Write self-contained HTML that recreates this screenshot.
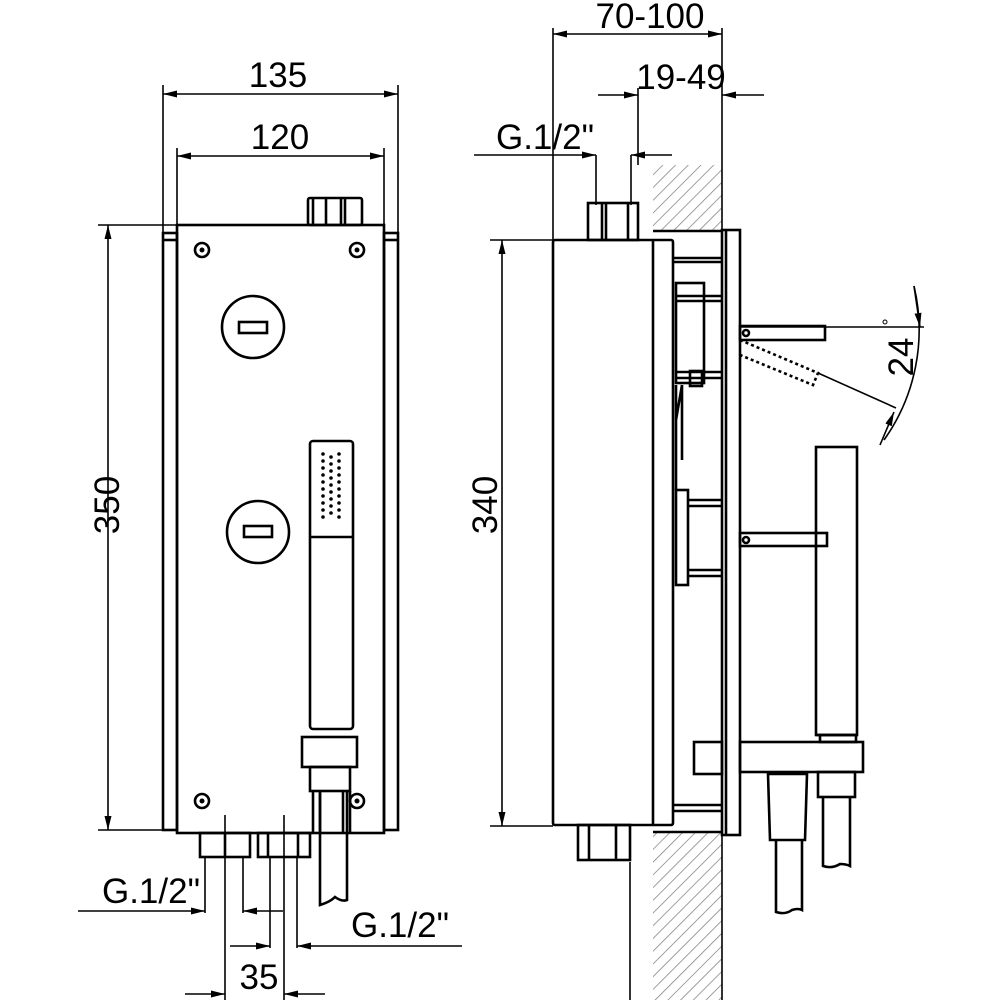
<!DOCTYPE html>
<html><head><meta charset="utf-8"><style>
html,body{margin:0;padding:0;background:#fff}
svg{display:block}
text{font-family:"Liberation Sans",Arial,sans-serif;font-size:35px;fill:#000;text-anchor:middle}
</style></head><body>
<svg width="1000" height="1000" viewBox="0 0 1000 1000" xmlns="http://www.w3.org/2000/svg">
<defs>
<marker id="a" viewBox="0 0 14 7" refX="14" refY="3.5" markerWidth="14" markerHeight="7" orient="auto-start-reverse" markerUnits="userSpaceOnUse"><path d="M0,0 L14,3.5 L0,7 Z" fill="#000"/></marker>
<pattern id="h" width="9" height="9" patternUnits="userSpaceOnUse" patternTransform="rotate(45)"><line x1="0" y1="0" x2="0" y2="9" stroke="#777" stroke-width="1.4"/></pattern>
</defs>
<g fill="none" stroke="#000" stroke-width="1.6">
<line x1="163" y1="85" x2="163" y2="233"/><line x1="398" y1="85" x2="398" y2="233"/>
<line x1="163" y1="94" x2="398" y2="94" marker-start="url(#a)" marker-end="url(#a)"/>
<line x1="177" y1="148" x2="177" y2="225"/><line x1="384" y1="148" x2="384" y2="225"/>
<line x1="177" y1="156" x2="384" y2="156" marker-start="url(#a)" marker-end="url(#a)"/>
<line x1="98" y1="225" x2="177" y2="225"/><line x1="98" y1="830" x2="177" y2="830"/>
<line x1="108" y1="225" x2="108" y2="830" marker-start="url(#a)" marker-end="url(#a)"/>
</g>
<g fill="none" stroke="#000" stroke-width="2.6">
<rect x="163" y="233" width="14" height="597"/>
<rect x="384" y="233" width="14" height="597"/>
<line x1="163" y1="240" x2="177" y2="240"/><line x1="384" y1="240" x2="398" y2="240"/>
<rect x="177" y="225" width="207" height="608"/>
<rect x="308" y="198" width="54" height="27" rx="2"/>
<line x1="313" y1="198" x2="313" y2="225"/><line x1="326" y1="198" x2="326" y2="225"/><line x1="341" y1="198" x2="341" y2="225"/><line x1="345" y1="198" x2="345" y2="225"/>
<circle cx="202" cy="250" r="7"/><circle cx="357" cy="250" r="7"/>
<circle cx="202" cy="801" r="7"/><circle cx="357" cy="801" r="7"/>
<circle cx="253" cy="327" r="31"/><rect x="239" y="322" width="28" height="11"/>
<circle cx="258" cy="532" r="31"/><rect x="244" y="526" width="28" height="11"/>
<rect x="310" y="441" width="43" height="288" rx="3"/>
<line x1="310" y1="537" x2="353" y2="537"/>
<rect x="302" y="737" width="55" height="30"/>
<rect x="310" y="767" width="40" height="24"/>
<line x1="313" y1="791" x2="313" y2="833"/><line x1="320" y1="791" x2="320" y2="833"/>
<line x1="343" y1="791" x2="343" y2="833"/><line x1="350" y1="791" x2="350" y2="833"/>
<path d="M320,791 V905 Q330,902 335,897 Q342,902 347,900 V791"/>
<rect x="200" y="833" width="50" height="24"/><line x1="225" y1="833" x2="225" y2="857"/>
<rect x="258" y="833" width="52" height="24"/><line x1="268" y1="833" x2="268" y2="857"/><line x1="298" y1="833" x2="298" y2="857"/>
</g>
<g fill="#000">
<circle cx="202" cy="250" r="2.5"/><circle cx="357" cy="250" r="2.5"/><circle cx="202" cy="801" r="2.5"/><circle cx="357" cy="801" r="2.5"/>
<g transform="translate(321,452)">
<circle cx="2" cy="2" r="1.8"/><circle cx="2" cy="9" r="1.8"/><circle cx="2" cy="16" r="1.8"/><circle cx="2" cy="23" r="1.8"/><circle cx="2" cy="30" r="1.8"/><circle cx="2" cy="37" r="1.8"/><circle cx="2" cy="44" r="1.8"/><circle cx="2" cy="51" r="1.8"/><circle cx="2" cy="58" r="1.8"/><circle cx="2" cy="65" r="1.8"/>
<circle cx="10" cy="5" r="1.8"/><circle cx="10" cy="12" r="1.8"/><circle cx="10" cy="19" r="1.8"/><circle cx="10" cy="26" r="1.8"/><circle cx="10" cy="33" r="1.8"/><circle cx="10" cy="40" r="1.8"/><circle cx="10" cy="47" r="1.8"/><circle cx="10" cy="54" r="1.8"/><circle cx="10" cy="61" r="1.8"/>
<circle cx="18" cy="2" r="1.8"/><circle cx="18" cy="9" r="1.8"/><circle cx="18" cy="16" r="1.8"/><circle cx="18" cy="23" r="1.8"/><circle cx="18" cy="30" r="1.8"/><circle cx="18" cy="37" r="1.8"/><circle cx="18" cy="44" r="1.8"/><circle cx="18" cy="51" r="1.8"/><circle cx="18" cy="58" r="1.8"/><circle cx="18" cy="65" r="1.8"/>
</g>
</g>
<g fill="none" stroke="#000" stroke-width="1.6">
<line x1="205" y1="857" x2="205" y2="913"/><line x1="243" y1="857" x2="243" y2="913"/>
<line x1="225" y1="815" x2="225" y2="1000"/><line x1="284" y1="815" x2="284" y2="1000"/>
<line x1="78" y1="911" x2="205" y2="911" marker-end="url(#a)"/>
<line x1="243" y1="911" x2="283" y2="911" marker-start="url(#a)"/>
<line x1="270" y1="857" x2="270" y2="948"/><line x1="297" y1="857" x2="297" y2="948"/>
<line x1="230" y1="946" x2="270" y2="946" marker-end="url(#a)"/>
<line x1="297" y1="946" x2="462" y2="946" marker-start="url(#a)"/>
<line x1="185" y1="994" x2="225" y2="994" marker-end="url(#a)"/>
<line x1="284" y1="994" x2="325" y2="994" marker-start="url(#a)"/>
</g>
<text x="151" y="903">G.1/2"</text>
<text x="400" y="937">G.1/2"</text>
<text x="259" y="989">35</text>
<text x="278" y="87">135</text>
<text x="280" y="149">120</text>
<text transform="translate(119,505) rotate(-90)">350</text>

<rect x="653" y="165" width="69" height="65" fill="url(#h)"/>
<rect x="653" y="833" width="69" height="167" fill="url(#h)"/>
<g fill="none" stroke="#000" stroke-width="1.6">
<line x1="553" y1="28" x2="553" y2="240"/><line x1="722" y1="28" x2="722" y2="1000"/>
<line x1="553" y1="34" x2="722" y2="34" marker-start="url(#a)" marker-end="url(#a)"/>
<line x1="638" y1="88" x2="638" y2="165"/>
<line x1="598" y1="95" x2="638" y2="95" marker-end="url(#a)"/>
<line x1="722" y1="95" x2="764" y2="95" marker-start="url(#a)"/>
<line x1="474" y1="155" x2="596" y2="155" marker-end="url(#a)"/>
<line x1="631" y1="155" x2="672" y2="155" marker-start="url(#a)"/>
<line x1="596" y1="155" x2="596" y2="205"/><line x1="631" y1="155" x2="631" y2="205"/>
<line x1="490" y1="240" x2="553" y2="240"/><line x1="490" y1="826" x2="553" y2="826"/>
<line x1="502" y1="240" x2="502" y2="826" marker-start="url(#a)" marker-end="url(#a)"/>
<line x1="630" y1="862" x2="630" y2="1000"/>
<line x1="740" y1="327" x2="924" y2="327"/>
<line x1="818" y1="373" x2="896" y2="408"/>
<path d="M914,286 A190,190 0 0 1 884,440"/>
<line x1="914" y1="286" x2="920" y2="327" marker-end="url(#a)"/>
<line x1="880" y1="445" x2="894" y2="412" marker-end="url(#a)"/>
</g>
<g fill="none" stroke="#000" stroke-width="2.6">
<rect x="553" y="240" width="120" height="585" rx="2"/>
<line x1="653" y1="240" x2="653" y2="825"/>
<rect x="588" y="203" width="50" height="37"/><line x1="602" y1="203" x2="602" y2="240"/><line x1="606" y1="203" x2="606" y2="240"/><line x1="628" y1="203" x2="628" y2="240"/>
<rect x="578" y="825" width="52" height="35"/><line x1="589" y1="825" x2="589" y2="860"/><line x1="616" y1="825" x2="616" y2="860"/>
<line x1="653" y1="231" x2="722" y2="231"/><line x1="653" y1="832" x2="722" y2="832"/>
<rect x="722" y="230" width="18" height="605"/><line x1="726" y1="230" x2="726" y2="835"/>
<line x1="673" y1="258" x2="722" y2="258"/><line x1="673" y1="262" x2="722" y2="262"/>
<rect x="676" y="283" width="28" height="100"/><line x1="676" y1="296" x2="722" y2="296"/><line x1="676" y1="301" x2="722" y2="301"/>
<line x1="676" y1="372" x2="722" y2="372"/><line x1="676" y1="378" x2="722" y2="378"/>
<rect x="690" y="371" width="12" height="15"/>
<path d="M676,385 V490 M682,385 L676,420 M682,385 V460"/>
<rect x="676" y="490" width="12" height="95"/>
<line x1="688" y1="500" x2="722" y2="500"/><line x1="688" y1="506" x2="722" y2="506"/>
<line x1="688" y1="570" x2="722" y2="570"/><line x1="688" y1="576" x2="722" y2="576"/>
<line x1="673" y1="805" x2="722" y2="805"/><line x1="673" y1="811" x2="722" y2="811"/>
<rect x="740" y="326" width="85" height="14"/>
<path d="M740,340 L818,373 L813,385 L740,355" stroke-dasharray="3,3"/>
<circle cx="746" cy="333" r="3"/>
<rect x="816" y="447" width="41" height="288"/>
<line x1="816" y1="735" x2="857" y2="735"/>
<rect x="740" y="533" width="87" height="13"/><circle cx="746" cy="540" r="3"/>
<rect x="694" y="742" width="28" height="32"/>
<rect x="740" y="742" width="123" height="30"/>
<rect x="820" y="735" width="36" height="7"/>
<path d="M768,774 L770,840 H805 L807,774 Z"/>
<path d="M776,840 V912 Q785,915 792,910 Q798,908 802,910 V840"/>
<rect x="818" y="772" width="37" height="25"/>
<path d="M823,797 V866 Q832,869 840,864 Q846,864 850,866 V797"/>
</g>
<circle cx="885" cy="322" r="2" fill="none" stroke="#000"/>
<text x="650" y="28">70-100</text>
<text x="681" y="89">19-49</text>
<text x="545" y="149">G.1/2"</text>
<text transform="translate(497,505) rotate(-90)">340</text>
<text transform="translate(913,357) rotate(-90)">24</text>
</svg>
</body></html>
